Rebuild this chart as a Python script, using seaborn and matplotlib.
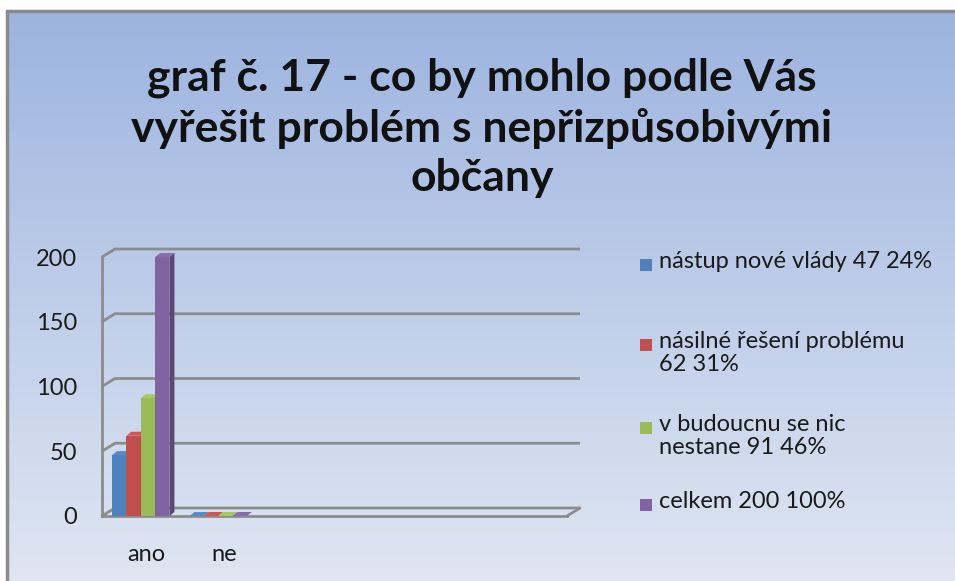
import numpy as np
import pandas as pd
import matplotlib
matplotlib.use("Agg")
import matplotlib.pyplot as plt
import seaborn as sns
from matplotlib.patches import Polygon, Rectangle
from matplotlib.lines import Line2D
from matplotlib.colors import to_rgb
from matplotlib.transforms import ScaledTranslation

# ---- data ----
categories = ["ano", "ne"]
series = ["nástup nové vlády 47 24%",
          "násilné řešení problému\n62 31%",
          "v budoucnu se nic\nnestane 91 46%",
          "celkem 200 100%"]
nastup = [47, 0]
nasilne = [62, 0]
budoucnu = [91, 0]
celkem = [200, 0]
colors = ["#4f81bd", "#c0504d", "#9bbb59", "#8064a2"]
yticks = [0, 50, 100, 150, 200]
n_slots = 6
title = "graf č. 17 - co by mohlo podle Vás\nvyřešit problém s nepřizpůsobivými\nobčany"

df = pd.DataFrame({
    "cat": categories * 4,
    "series": [s for s in series for _ in categories],
    "value": nastup + nasilne + budoucnu + celkem,
})

sns.set_theme(style="white")
plt.rcParams["font.family"] = ["Lato", "DejaVu Sans"]

W, H = 955, 581
fig = plt.figure(figsize=(W / 100, H / 100), dpi=100, facecolor="white")
fx = lambda px: px / W
fy = lambda py: 1 - py / H

# background gradient panel
bg = fig.add_axes([fx(7), 0, 1 - fx(7), fy(11)], zorder=0)
g = np.linspace(0, 1, 256)[:, None, None]
top = np.array(to_rgb("#9db4e0"))
bot = np.array(to_rgb("#dfe6f2"))
img = top[None, None, :] * (1 - g) + bot[None, None, :] * g
bg.imshow(img, aspect="auto", extent=[0, 1, 0, 1], origin="upper")
bg.axis("off")
border = "#8a8a8a"
fig.add_artist(Line2D([fx(7), fx(7)], [0, fy(11)], color=border, lw=2.5,
                      transform=fig.transFigure, zorder=1))
fig.add_artist(Line2D([fx(7), 1], [fy(11), fy(11)], color=border, lw=2.5,
                      transform=fig.transFigure, zorder=1))

# main axes
ax = fig.add_axes([fx(102), fy(516), fx(567 - 102), (516 - 257) / H], zorder=2)
ax.set_facecolor("none")
sns.barplot(data=df, x="cat", y="value", hue="series", order=categories,
            hue_order=series, palette=colors, width=0.74, saturation=1,
            linewidth=0, legend=False, ax=ax)
ax.set_xlim(-0.5, n_slots - 0.5)
ax.set_ylim(0, 200)
ax.set_xlabel(""); ax.set_ylabel("")

gray = "#8c8c8c"
for k, s in ax.spines.items():
    s.set_visible(k in ("left", "bottom"))
    s.set_color(gray); s.set_linewidth(2)

ax.set_yticks(yticks)
ax.set_yticklabels([str(v) for v in yticks])
ax.tick_params(axis="y", direction="out", length=7, width=2, color=gray,
               labelsize=17, pad=11, labelcolor="#1a1a1a")
ax.set_xticks(np.arange(-0.5, n_slots, 1.0))
ax.set_xticklabels([])
ax.set_xticks(range(len(categories)), minor=True)
ax.set_xticklabels(categories, minor=True)
ax.tick_params(axis="x", which="major", direction="out", length=7, width=2, color=gray)
ax.tick_params(axis="x", which="minor", length=0, labelsize=17, pad=20, labelcolor="#1a1a1a")
shift = ScaledTranslation(6 / 100, 0, fig.dpi_scale_trans)
for lbl in ax.get_xticklabels(minor=True):
    lbl.set_transform(lbl.get_transform() + shift)

# back wall offset (pixels) converted to data units
p0 = ax.transData.transform((0, 0))
px_per_x = ax.transData.transform((1, 0))[0] - p0[0]
px_per_y = ax.transData.transform((0, 1))[1] - p0[1]
dxd = 13 / px_per_x
dyd = 8 / px_per_y
x0, x1 = -0.5, n_slots - 0.5
for v in yticks:
    ax.plot([x0, x0 + dxd, x1 + dxd], [v, v + dyd, v + dyd], color=gray,
            lw=2, zorder=1, clip_on=False, solid_capstyle="butt")
ax.plot([x1 + dxd, x1], [dyd, 0], color=gray, lw=2, zorder=1, clip_on=False)

# pseudo-3D faces on bars
bdx = 5 / px_per_x
bdy = 4 / px_per_y
for i, cont in enumerate(ax.containers):
    base = np.array(to_rgb(colors[i]))
    side = base * 0.72
    topc = np.clip(base * 1.08, 0, 1)
    for p in cont.patches:
        p.set_zorder(3 + i)
        xl, w, h = p.get_x(), p.get_width(), p.get_height()
        xr = xl + w
        ax.add_patch(Polygon([(xr, 0), (xr + bdx, bdy), (xr + bdx, h + bdy), (xr, h)],
                             closed=True, facecolor=side, edgecolor="none",
                             zorder=3 + i + 0.5, clip_on=False))
        ax.add_patch(Polygon([(xl, h), (xl + bdx, h + bdy), (xr + bdx, h + bdy), (xr, h)],
                             closed=True, facecolor=topc, edgecolor="none",
                             zorder=3 + i + 0.5, clip_on=False))

# title
fig.text(fx(482), fy(128), title, ha="center", va="center", fontsize=32,
         fontweight="bold", linespacing=1.28, color="#111111")

# legend (manual layout)
leg_y = [265, 345, 428, 505]
for i, lab in enumerate(series):
    yc = leg_y[i]
    fig.patches.append(Rectangle((fx(640), fy(yc + 6)), fx(12), 12 / H,
                                 transform=fig.transFigure, facecolor=colors[i],
                                 edgecolor="none", zorder=5))
    fig.text(fx(659), fy(yc - 14), lab, ha="left", va="top", fontsize=17,
             linespacing=1.12, color="#1a1a1a")

fig.savefig("out.png", dpi=100, facecolor="white")
